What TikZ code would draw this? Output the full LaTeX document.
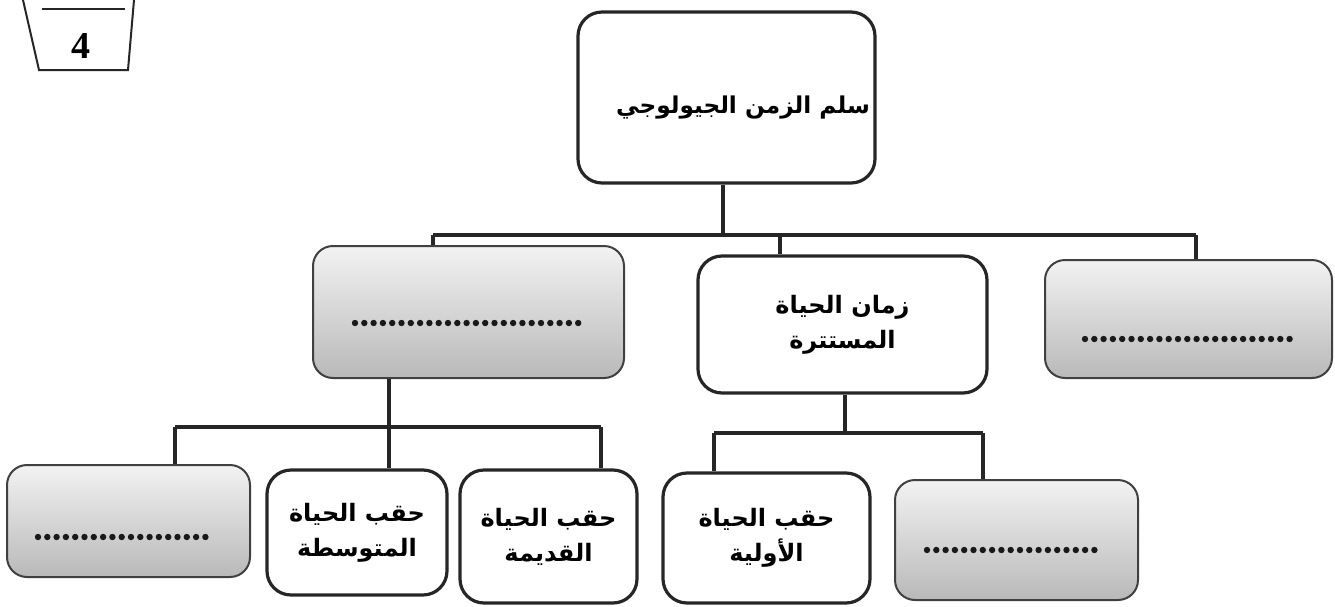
\documentclass[tikz,border=0pt]{standalone}
\usepackage{fontspec}
\TeXXeTstate=1
\newfontfamily\arabicfont[Script=Arabic]{DejaVu Sans}
\newfontfamily\numfont{Liberation Serif}
\begin{document}
\begin{tikzpicture}[x=0.5pt,y=-0.5pt]
\tikzset{
 box/.style={draw=black!85, line width=1.6pt, rounded corners=12pt, inner sep=0pt, align=center, font=\arabicfont\bfseries\fontsize{12}{17.5}\selectfont},
 blank/.style={draw=black!75, line width=1pt, rounded corners=10pt, inner sep=0pt, top color=gray!10, bottom color=gray!55},
 conn/.style={draw=black!85, line width=2pt},
 dotline/.style={draw=black!90, line width=3.2pt, dash pattern=on 0pt off 4.65pt, line cap=round},
 badge/.style={draw=black!85, line width=1pt},
 title/.style={font=\arabicfont\bfseries\fontsize{11.6}{17.5}\selectfont, inner sep=0pt}
}
\useasboundingbox (0,0) rectangle (1335,606);
% badge
\draw[badge] (23,0) -- (39,70) -- (128,70) -- (134,0);
\draw[badge] (42,9) -- (125,9);
\node[font=\numfont\bfseries\fontsize{19}{19}\selectfont] (num) at (81,46) {4};
% boxes
\node[box, minimum width=148.5pt, minimum height=85.5pt] (top) at (726.5,97.5) {};
\node[title] (toptitle) at (743,108) {\beginR سلم الزمن الجيولوجي\endR};
\node[blank, minimum width=155.5pt, minimum height=66pt] (m1) at (468.5,312) {};
\node[box, minimum width=144.5pt, minimum height=68.5pt] (m2) at (842.5,324.5) {\beginR زمان الحياة\endR\\\beginR المستترة\endR};
\node[blank, minimum width=143.5pt, minimum height=59pt] (m3) at (1188.5,319) {};
\node[blank, minimum width=121.5pt, minimum height=56pt] (b1) at (128.5,521) {};
\node[box, minimum width=90pt, minimum height=62.5pt] (b2) at (357,532.5) {\beginR حقب الحياة\endR\\\beginR المتوسطة\endR};
\node[box, minimum width=88.5pt, minimum height=66.5pt] (b3) at (548.5,536.5) {\beginR حقب الحياة\endR\\\beginR القديمة\endR};
\node[box, minimum width=103.5pt, minimum height=65pt] (b4) at (766.5,538) {\beginR حقب الحياة\endR\\\beginR الأولية\endR};
\node[blank, minimum width=121.5pt, minimum height=60pt] (b5) at (1016.5,540) {};
% dotted answer lines
\draw[dotline] (355,323) -- (580,323);
\draw[dotline] (1085,339) -- (1293,339);
\draw[dotline] (38,537) -- (213,537);
\draw[dotline] (927,550) -- (1103,550);
% connectors level 1
\coordinate (j0) at (723,235);
\coordinate (bl) at (433,235);
\coordinate (bm) at (780,235);
\coordinate (br) at (1196,235);
\draw[conn] (top.south -| j0) -- (j0);
\draw[conn] (bl) -- (br);
\draw[conn] (bl) -- (bl |- m1.north);
\draw[conn] (bm) -- (bm |- m2.north);
\draw[conn] (br) -- (br |- m3.north);
% connectors level 2 (left)
\coordinate (k0) at (389,427);
\coordinate (kl) at (175,427);
\coordinate (kr) at (601,427);
\draw[conn] (m1.south -| k0) -- (k0 |- b2.north);
\draw[conn] (kl) -- (kr);
\draw[conn] (kl) -- (kl |- b1.north);
\draw[conn] (kr) -- (kr |- b3.north);
% connectors level 2 (middle)
\coordinate (n0) at (845,433);
\coordinate (nl) at (714,433);
\coordinate (nr) at (983,433);
\draw[conn] (m2.south -| n0) -- (n0);
\draw[conn] (nl) -- (nr);
\draw[conn] (nl) -- (nl |- b4.north);
\draw[conn] (nr) -- (nr |- b5.north);
\end{tikzpicture}
\end{document}
